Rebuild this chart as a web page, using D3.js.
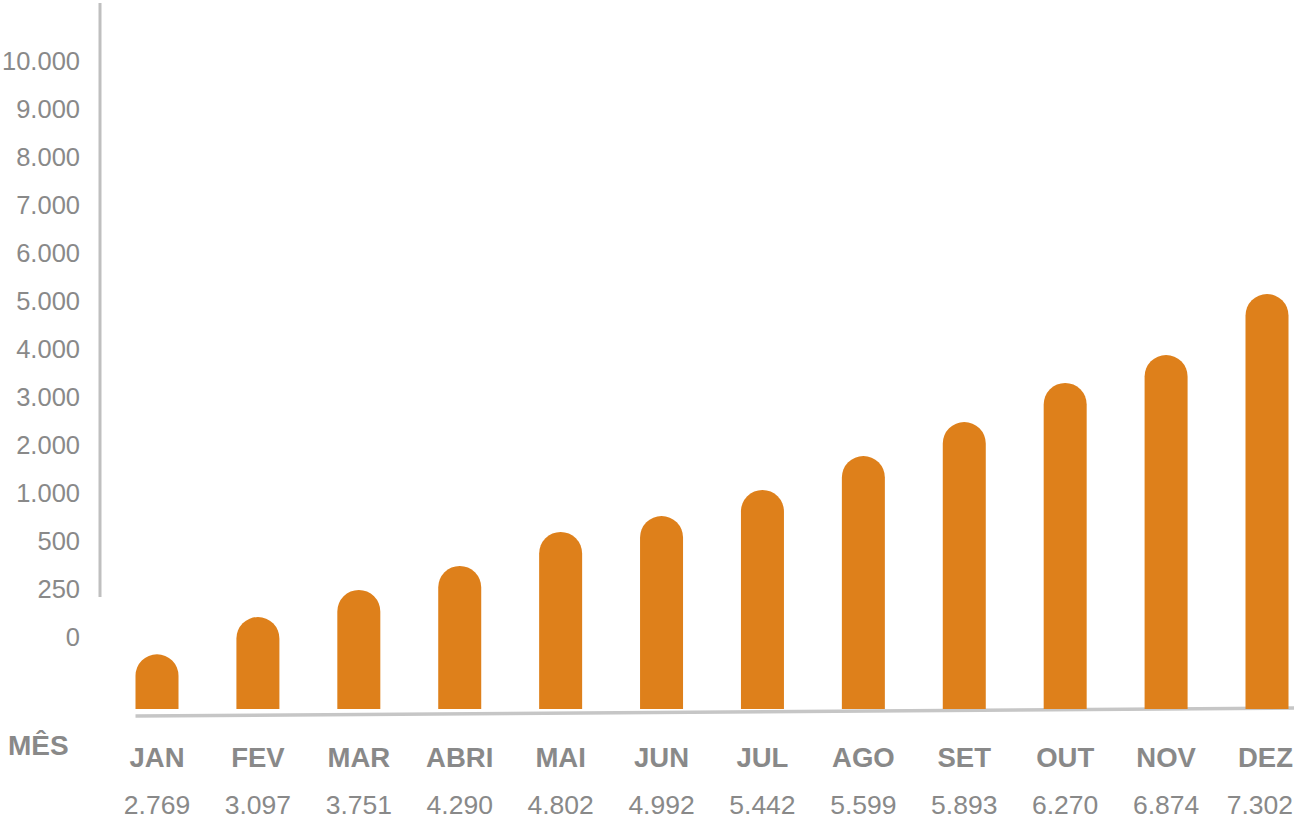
<!DOCTYPE html>
<html>
<head>
<meta charset="utf-8">
<script src="https://cdn.jsdelivr.net/npm/d3@7"></script>
<style>
  body { margin: 0; background: #fff; }
  svg { display: block; font-family: "Liberation Sans", Arial, sans-serif; }
</style>
</head>
<body>
<div class="chart"></div>
<script>
// months and the monthly totals printed under them
const months = ['JAN','FEV','MAR','ABRI','MAI','JUN','JUL','AGO','SET','OUT','NOV','DEZ'];
const totals = [2769, 3097, 3751, 4290, 4802, 4992, 5442, 5599, 5893, 6270, 6874, 7302];
// bar tops as read against the drawn y axis
const barLevel = [-90, 104, 245, 370, 594, 760, 1063, 1771, 2479, 3292, 3875, 5146];
// y axis tick labels (unevenly spaced values, evenly spaced on screen)
const yTicks = [0, 250, 500, 1000, 2000, 3000, 4000, 5000, 6000, 7000, 8000, 9000, 10000];
const barFloor = -375;

const width = 1294, height = 822;
const grey = '#898989', orange = '#de801b';

const fmt = d3.formatLocale({decimal: ',', thousands: '.', grouping: [3], currency: ['', '']}).format(',');

const svg = d3.select('.chart')
  .append('svg')
    .attr('width', width)
    .attr('height', height);

// y scale: each tick gets the same screen step
const yTop = 61, yZero = 637;
const yScale = d3.scaleLinear()
  .domain(yTicks)
  .range(yTicks.map((d, i) => yZero - i * (yZero - yTop) / (yTicks.length - 1)));

const xScale = d3.scalePoint()
  .domain(months)
  .range([157, 1267]);
const barW = 43;

// y axis
svg.append('line')
  .attr('x1', 100).attr('x2', 100)
  .attr('y1', 3).attr('y2', 597)
  .attr('stroke', '#bfbfbf')
  .attr('stroke-width', 3);

const yAxis = svg.append('g')
  .attr('transform', 'translate(100,0)')
  .call(d3.axisLeft(yScale).tickValues(yTicks).tickSize(0).tickPadding(20).tickFormat(fmt));
yAxis.select('.domain').remove();
yAxis.selectAll('text')
  .attr('fill', grey)
  .style('font-size', '25.5px')
  .style('font-family', '"Liberation Sans", Arial, sans-serif');

// base line, slightly tilted
const x0 = xScale(months[0]) - barW / 2;
svg.append('line')
  .attr('x1', x0).attr('y1', 716)
  .attr('x2', width).attr('y2', 708)
  .attr('stroke', '#c6c6c6')
  .attr('stroke-width', 3.5);

// bars with rounded tops
const r = barW / 2;
svg.selectAll('path.bar')
  .data(months)
  .enter()
  .append('path')
    .attr('class', 'bar')
    .attr('fill', orange)
    .attr('d', function (d, i) {
      const cx = xScale(d);
      const yb = yScale(barFloor);
      const yt = yScale(barLevel[i]);
      const p = d3.path();
      p.moveTo(cx - r, yb);
      p.lineTo(cx - r, yt + r);
      p.arc(cx, yt + r, r, Math.PI, 0);
      p.lineTo(cx + r, yb);
      p.closePath();
      return p.toString();
    });

// keep the last labels inside the right edge
function fitX(node, x) {
  const w = node.getComputedTextLength();
  return Math.min(x, width - w / 2 - 1);
}

svg.append('text')
  .attr('x', 8).attr('y', 755)
  .attr('fill', grey)
  .style('font-size', '28px')
  .style('font-weight', 'bold')
  .text('MÊS');

svg.selectAll('text.month')
  .data(months)
  .enter()
  .append('text')
    .attr('class', 'month')
    .attr('y', 767)
    .attr('text-anchor', 'middle')
    .attr('fill', grey)
    .style('font-size', '27.5px')
    .style('font-weight', 'bold')
    .text(d => d)
    .attr('x', function (d) { return fitX(this, xScale(d)); });

svg.selectAll('text.total')
  .data(totals)
  .enter()
  .append('text')
    .attr('class', 'total')
    .attr('y', 814)
    .attr('text-anchor', 'middle')
    .attr('fill', grey)
    .style('font-size', '26.5px')
    .text(d => fmt(d))
    .attr('x', function (d, i) { return fitX(this, xScale(months[i])); });
</script>
</body>
</html>
